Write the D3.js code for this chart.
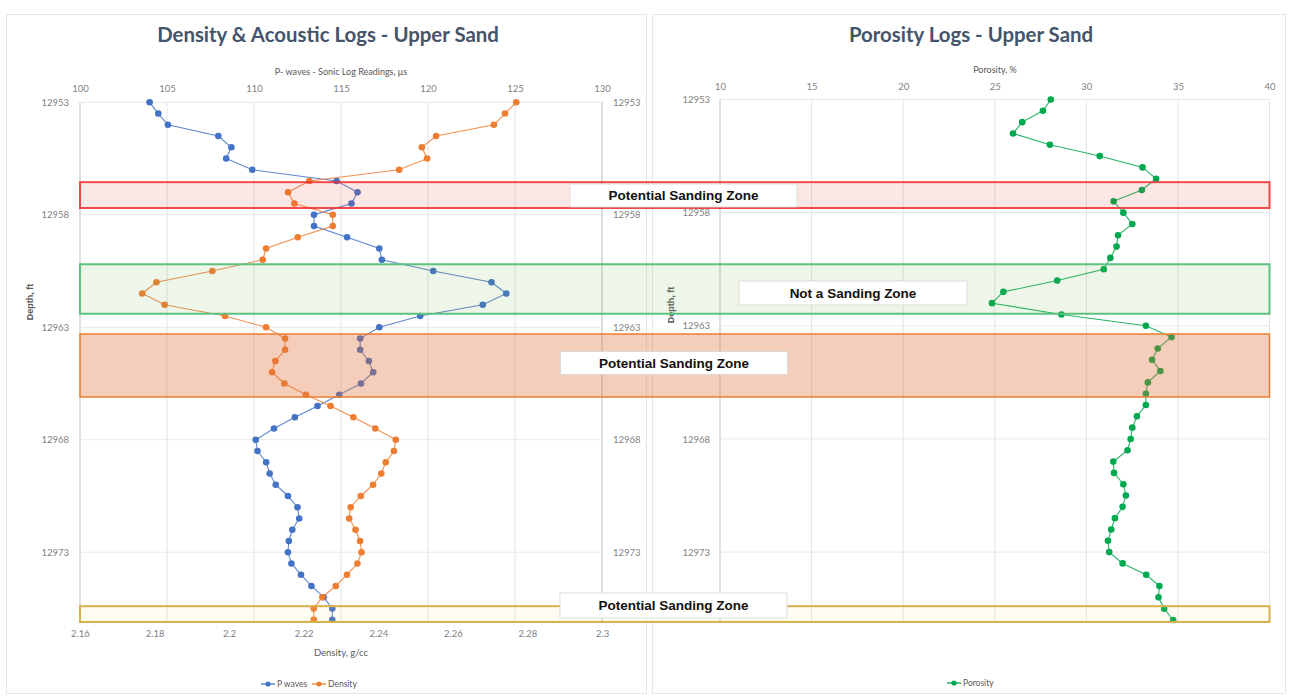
<!DOCTYPE html>
<html>
<head>
<meta charset="utf-8">
<script src="https://cdn.jsdelivr.net/npm/d3@7"></script>
<style>
  html, body { margin: 0; padding: 0; background: #ffffff; }
  svg { display: block; }
  text { font-family: Lato, "Open Sans", sans-serif; }
</style>
</head>
<body>
<svg id="chart" width="1290" height="696"></svg>
<script>
// Logged depths, ft (half-foot sampling)
const depths = [
  12953, 12953.5, 12954, 12954.5, 12955, 12955.5, 12956, 12956.5, 12957, 12957.5,
  12958, 12958.5, 12959, 12959.5, 12960, 12960.5, 12961, 12961.5, 12962, 12962.5,
  12963, 12963.5, 12964, 12964.5, 12965, 12965.5, 12966, 12966.5, 12967, 12967.5,
  12968, 12968.5, 12969, 12969.5, 12970, 12970.5, 12971, 12971.5, 12972, 12972.5,
  12973, 12973.5, 12974, 12974.5, 12975, 12975.5, 12976
];

// Sonic log (P waves), microseconds
const pWaves = [
  104.0, 104.5, 105.05, 107.95, 108.7, 108.4, 109.9, 114.75, 115.95, 115.6,
  113.45, 113.45, 115.35, 117.2, 117.35, 120.3, 123.65, 124.5, 123.15, 119.55,
  117.2, 116.1, 116.1, 116.6, 116.85, 116.15, 114.9, 113.65, 112.35, 111.15,
  110.1, 110.2, 110.7, 110.9, 111.25, 111.95, 112.5, 112.6, 112.2, 112.0,
  111.95, 112.15, 112.7, 113.3, 114.0, 114.5, 114.5
];

// Bulk density, g/cc
const density = [
  2.277, 2.274, 2.271, 2.2555, 2.2517, 2.2531, 2.2456, 2.2215, 2.2158, 2.2175,
  2.2278, 2.2278, 2.2184, 2.2099, 2.209, 2.1955, 2.1805, 2.1767, 2.1827, 2.1989,
  2.2099, 2.215, 2.215, 2.2124, 2.2115, 2.2148, 2.2206, 2.2272, 2.2333, 2.2392,
  2.2447, 2.2442, 2.242, 2.2408, 2.2386, 2.2353, 2.2326, 2.2322, 2.2339, 2.2351,
  2.2355, 2.2344, 2.2316, 2.2286, 2.225, 2.2227, 2.2227
];

// Porosity, %
const porosity = [
  28.06, 27.63, 26.5, 26.0, 28.01, 30.73, 33.07, 33.81, 33.03, 31.49,
  32.02, 32.51, 31.73, 31.65, 31.31, 30.95, 28.41, 25.47, 24.85, 28.64,
  33.25, 34.65, 33.9, 33.59, 34.04, 33.36, 33.25, 33.25, 32.76, 32.51,
  32.42, 32.25, 31.47, 31.51, 32.02, 32.16, 31.98, 31.56, 31.36, 31.18,
  31.25, 31.98, 33.27, 33.99, 33.94, 34.25, 34.74
];

// Axis ticks
const depthTicks = [12953, 12958, 12963, 12968, 12973];
const sonicTicks = [100, 105, 110, 115, 120, 125, 130];
const densityTicks = [2.16, 2.18, 2.2, 2.22, 2.24, 2.26, 2.28, 2.3];
const porosityTicks = [10, 15, 20, 25, 30, 35, 40];

// Interpreted zones (depth intervals, ft)
const zoneNames = ["Potential Sanding Zone", "Not a Sanding Zone", "Potential Sanding Zone", "Potential Sanding Zone"];
const zoneTops = [12956.55, 12960.2, 12963.3, 12975.4];
const zoneBottoms = [12957.7, 12962.4, 12966.1, 12976.1];

// ---------- layout ----------
const W = 1290, H = 696;
const L = { x0: 80, x1: 602, y0: 102.3, y1: 619.7 };
const R = { x0: 720, x1: 1269.5, y0: 99.5, y1: 620 };

const zoneStyles = [
  { stroke: "rgba(238,45,45,0.85)", fill: "rgba(240,70,55,0.13)", sw: 2 },
  { stroke: "#5cc27f", fill: "rgba(112,173,71,0.12)", sw: 2 },
  { stroke: "#ed7d31", fill: "rgba(222,112,52,0.34)", sw: 1.5 },
  { stroke: "#d9b04a", fill: "rgba(255,215,110,0.08)", sw: 2 }
];
const labelBoxes = [
  { cx: 683.5, cy: 195.5, w: 227, h: 23 },
  { cx: 853, cy: 293, w: 228, h: 24 },
  { cx: 674, cy: 363, w: 227, h: 23 },
  { cx: 673.5, cy: 605.5, w: 227, h: 25 }
];

const COL_P = "#4472c4", COL_D = "#ed7d31", COL_POR = "#00a84f";
const TICK_COL = "#7f7f7f", TITLE_COL = "#44546a", LABEL_COL = "#595959";

const svg = d3.select("#chart");
svg.append("rect").attr("width", W).attr("height", H).attr("fill", "#ffffff");

// chart area frames
svg.append("rect").attr("x", 6.5).attr("y", 14.5).attr("width", 640).attr("height", 679)
  .attr("fill", "none").attr("stroke", "#e6e6e6");
svg.append("rect").attr("x", 652.5).attr("y", 14.5).attr("width", 633).attr("height", 679)
  .attr("fill", "none").attr("stroke", "#e6e6e6");

// ---------- scales ----------
const xSonic = d3.scaleLinear().domain([100, 130]).range([L.x0, L.x1]);
const xDens = d3.scaleLinear().domain([2.16, 2.30]).range([L.x0, L.x1]);
const yL = d3.scaleLinear().domain([12953, 12976]).range([L.y0, L.y1]);
const xPor = d3.scaleLinear().domain([10, 40]).range([R.x0, R.x1]);
const yR = d3.scaleLinear().domain([12953, 12976]).range([R.y0, R.y1]);

function styleAxis(g, size) {
  g.select(".domain").remove();
  g.selectAll("line").remove();
  g.selectAll("text").attr("fill", TICK_COL).style("font-size", size + "px")
    .style("font-family", "Lato, 'Open Sans', sans-serif");
}

// ---------- gridlines ----------
function grid(xScale, xTicks, yScale, yTicks, box) {
  const g = svg.append("g");
  g.selectAll("line.v").data(xTicks).join("line")
    .attr("x1", d => xScale(d)).attr("x2", d => xScale(d))
    .attr("y1", box.y0).attr("y2", box.y1 + 2)
    .attr("stroke", (d, i) => (i === 0 ? "#bfbfbf" : "#e3e3e3")).attr("stroke-width", 1);
  g.selectAll("line.h").data(yTicks).join("line")
    .attr("x1", box.x0).attr("x2", box.x1)
    .attr("y1", d => yScale(d)).attr("y2", d => yScale(d))
    .attr("stroke", "#e8e8e8").attr("stroke-width", 1);
  return g;
}
const gL = grid(xSonic, sonicTicks, yL, depthTicks, L);
// secondary (right) axis line of the log chart
gL.append("line").attr("x1", L.x1).attr("x2", L.x1).attr("y1", L.y0).attr("y2", L.y1 + 2)
  .attr("stroke", "#c8c8c8");
grid(xPor, porosityTicks, yR, depthTicks, R);

// ---------- axes ----------
svg.append("g").attr("transform", `translate(0,${L.y0})`)
  .call(d3.axisTop(xSonic).tickValues(sonicTicks).tickSize(0).tickPadding(10))
  .call(g => styleAxis(g, 9.5));
svg.append("g").attr("transform", `translate(0,${L.y1})`)
  .call(d3.axisBottom(xDens).tickValues(densityTicks).tickSize(0).tickPadding(11)
    .tickFormat(d => String(+d.toFixed(2))))
  .call(g => styleAxis(g, 9.5));
svg.append("g").attr("transform", `translate(${L.x0},0)`)
  .call(d3.axisLeft(yL).tickValues(depthTicks).tickSize(0).tickPadding(11).tickFormat(d3.format("d")))
  .call(g => styleAxis(g, 9.5));
svg.append("g").attr("transform", `translate(${L.x1},0)`)
  .call(d3.axisRight(yL).tickValues(depthTicks).tickSize(0).tickPadding(11).tickFormat(d3.format("d")))
  .call(g => styleAxis(g, 9.5));

svg.append("g").attr("transform", `translate(0,${R.y0})`)
  .call(d3.axisTop(xPor).tickValues(porosityTicks).tickSize(0).tickPadding(10))
  .call(g => styleAxis(g, 9.5));
svg.append("g").attr("transform", `translate(${R.x0},0)`)
  .call(d3.axisLeft(yR).tickValues(depthTicks).tickSize(0).tickPadding(10).tickFormat(d3.format("d")))
  .call(g => styleAxis(g, 9.5));

// ---------- titles ----------
function text(x, y, str, opts = {}) {
  const t = svg.append("text").attr("x", x).attr("y", y).text(str)
    .attr("text-anchor", opts.anchor || "middle")
    .attr("fill", opts.fill || LABEL_COL)
    .style("font-size", (opts.size || 9.5) + "px")
    .style("font-weight", opts.weight || 400);
  if (opts.family) t.style("font-family", opts.family);
  if (opts.rotate) t.attr("transform", `rotate(${opts.rotate},${x},${y})`);
  return t;
}
text(328, 42, "Density & Acoustic Logs - Upper Sand", { size: 20.4, weight: 700, fill: TITLE_COL });
text(971, 42, "Porosity Logs - Upper Sand", { size: 20.4, weight: 700, fill: TITLE_COL });
text((L.x0 + L.x1) / 2, 75, "P- waves - Sonic Log Readings, \u03bcs", { size: 9 });
text((L.x0 + L.x1) / 2, 656, "Density, g/cc", { size: 9.5 });
text(995, 73, "Porosity, %", { size: 9 });
text(33, 302, "Depth, ft", { size: 9, weight: 700, rotate: -90, family: "'Liberation Sans', Arial, sans-serif" });
text(674, 305, "Depth, ft", { size: 9, weight: 700, rotate: -90, family: "'Liberation Sans', Arial, sans-serif" });

// ---------- series ----------
function series(xScale, yScale, values, color) {
  const pts = values.map((v, i) => [xScale(v), yScale(depths[i])]);
  const g = svg.append("g");
  g.append("path").attr("d", d3.line()(pts)).attr("fill", "none")
    .attr("stroke", color).attr("stroke-width", 1.1).attr("stroke-opacity", 0.85);
  g.selectAll("circle").data(pts).join("circle")
    .attr("cx", d => d[0]).attr("cy", d => d[1]).attr("r", 3.3).attr("fill", color);
}
series(xSonic, yL, pWaves, COL_P);
series(xDens, yL, density, COL_D);
series(xPor, yR, porosity, COL_POR);

// ---------- zones ----------
const zx0 = xSonic(100), zx1 = xPor(40);
zoneNames.forEach((name, i) => {
  const y0 = yL(zoneTops[i]), y1 = yL(zoneBottoms[i]);
  const st = zoneStyles[i];
  svg.append("rect").attr("x", zx0).attr("y", y0).attr("width", zx1 - zx0).attr("height", y1 - y0)
    .attr("fill", st.fill).attr("stroke", st.stroke).attr("stroke-width", st.sw);
});
zoneNames.forEach((name, i) => {
  const b = labelBoxes[i];
  svg.append("rect").attr("x", b.cx - b.w / 2).attr("y", b.cy - b.h / 2)
    .attr("width", b.w).attr("height", b.h)
    .attr("fill", "#ffffff").attr("stroke", "#d6d6d6").attr("stroke-width", 0.8);
  svg.append("text").attr("x", b.cx).attr("y", b.cy).attr("dy", "0.36em")
    .attr("text-anchor", "middle").attr("fill", "#111111")
    .style("font-family", "'Liberation Sans', Arial, sans-serif")
    .style("font-size", "13.5px").style("font-weight", 700).text(name);
});

// ---------- legends ----------
function legendItem(x, y, color, label) {
  svg.append("line").attr("x1", x - 7).attr("x2", x + 7).attr("y1", y).attr("y2", y)
    .attr("stroke", color).attr("stroke-width", 1.3);
  svg.append("circle").attr("cx", x).attr("cy", y).attr("r", 2.6).attr("fill", color);
  text(x + 9, y + 3, label, { anchor: "start", size: 8.5 });
}
legendItem(268, 684, COL_P, "P waves");
legendItem(319, 684, COL_D, "Density");
legendItem(954, 683, COL_POR, "Porosity");
</script>
</body>
</html>
